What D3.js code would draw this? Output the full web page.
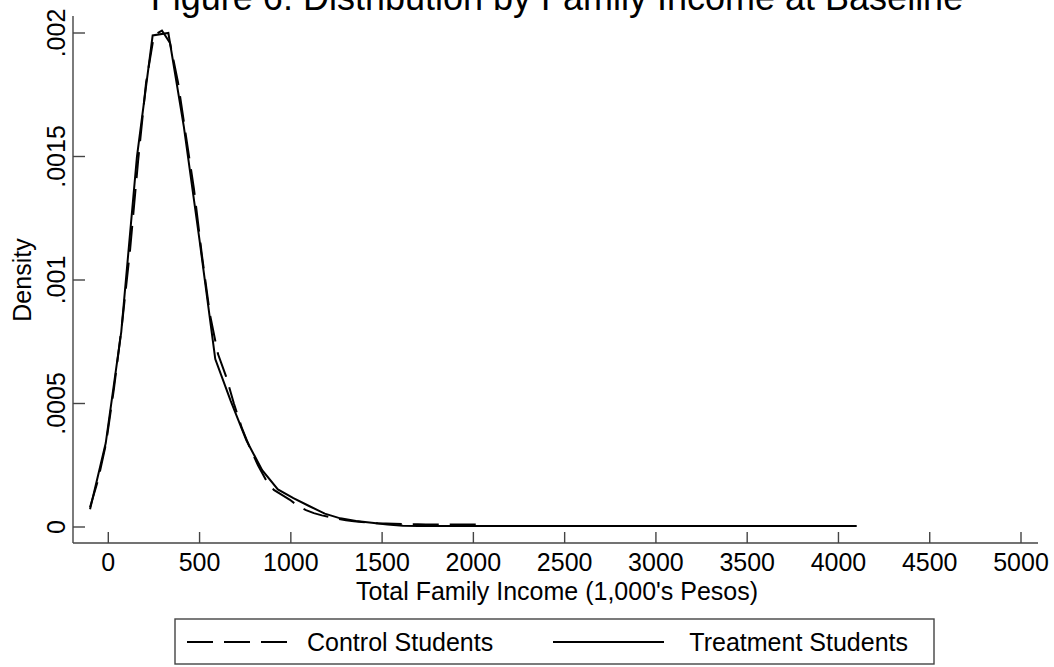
<!DOCTYPE html>
<html>
<head>
<meta charset="utf-8">
<script src="https://cdn.jsdelivr.net/npm/d3@7"></script>
<style>
  html, body { margin: 0; padding: 0; background: #fff; }
  svg { display: block; font-family: "Liberation Sans", Arial, sans-serif; }
</style>
</head>
<body>
<svg id="chart" width="1054" height="667"></svg>
<script>
// ---- Data ----
const titleText = "Figure 6: Distribution by Family Income at Baseline";
const xTitle = "Total Family Income (1,000's Pesos)";
const yTitle = "Density";
const xTicks = [0, 500, 1000, 1500, 2000, 2500, 3000, 3500, 4000, 4500, 5000];
const yTicks = [0, 0.0005, 0.001, 0.0015, 0.002];
const yTickLabels = ["0", ".0005", ".001", ".0015", ".002"];
const seriesNames = ["Control Students", "Treatment Students"];

const controlIncome = [-100, -56, -12, 31, 75, 119, 163, 207, 250, 294, 338, 382, 426, 469, 513, 557, 601, 645, 688, 732,
  776, 820, 864, 907, 951, 995, 1039, 1083, 1126, 1170, 1214, 1258, 1302, 1345, 1389, 1433, 1477, 1521, 1564, 1608,
  1652, 1696, 1740, 1783, 1827, 1871, 1915, 1959, 2002, 2046];
const controlDensity = [0.00008, 0.00019, 0.00034, 0.00056, 0.00082, 0.00112, 0.00148, 0.00180, 0.00199, 0.00201,
  0.00196, 0.00180, 0.00158, 0.00137, 0.00110, 0.00086, 0.00070, 0.00061, 0.00050, 0.00040,
  0.00032, 0.00025, 0.00019, 0.00015, 0.00013, 0.00011, 0.000085, 0.000068, 0.000056, 0.000047,
  0.000040, 0.000033, 0.000027, 0.000023, 0.000020, 0.000017, 0.000015, 0.000014, 0.000013, 0.000012,
  0.000011, 0.000011, 0.000010, 0.000010, 0.000010, 0.000010, 0.000010, 0.000010, 0.000010, 0.000010];

const treatmentIncome = [-100, -14, 71, 157, 243, 329, 414, 500, 586, 671, 757, 843, 929, 1014, 1100, 1186, 1271, 1357,
  1443, 1529, 1614, 1700, 1786, 1871, 1957, 2043, 2129, 2214, 2300, 2386, 2471, 2557, 2643, 2729, 2814, 2900,
  2986, 3071, 3157, 3243, 3329, 3414, 3500, 3586, 3671, 3757, 3843, 3929, 4014, 4100];
const treatmentDensity = [0.000072, 0.00034, 0.00079, 0.00150, 0.00199, 0.00200, 0.00162, 0.00116, 0.00068, 0.00051,
  0.00035, 0.00023, 0.000152, 0.000117, 0.000085, 0.000054, 0.000035, 0.000024, 0.000017, 0.000010,
  0.000005, 0.000004, 0.000004, 0.000004, 0.000004, 0.000004, 0.000004, 0.000004, 0.000004, 0.000004,
  0.000004, 0.000004, 0.000004, 0.000004, 0.000004, 0.000004, 0.000004, 0.000004, 0.000004, 0.000004,
  0.000004, 0.000004, 0.000004, 0.000004, 0.000004, 0.000004, 0.000004, 0.000004, 0.000004, 0.000004];

// ---- Layout ----
const svg = d3.select("#chart");
const x = d3.scaleLinear().domain([0, 5000]).range([108.3, 1021]);
const y = d3.scaleLinear().domain([0, 0.002]).range([527, 33]);
const axisX = 73, axisY = 543;
const fontSize = 25;
const dash = "26,11";

// Title (partly cut off at the top)
svg.append("text").attr("x", 557).attr("y", 10).attr("text-anchor", "middle")
  .attr("font-size", 36).attr("fill", "#000").text(titleText);

// Axis lines
svg.append("line").attr("x1", axisX).attr("x2", axisX).attr("y1", 16).attr("y2", axisY)
  .attr("stroke", "#444").attr("stroke-width", 1.4);
svg.append("line").attr("x1", axisX).attr("x2", 1038).attr("y1", axisY).attr("y2", axisY)
  .attr("stroke", "#444").attr("stroke-width", 1.4);

// X ticks (inward) and labels
const gx = svg.append("g");
gx.selectAll("line").data(xTicks).join("line")
  .attr("x1", d => x(d)).attr("x2", d => x(d)).attr("y1", axisY).attr("y2", axisY - 11)
  .attr("stroke", "#444").attr("stroke-width", 1.4);
gx.selectAll("text").data(xTicks).join("text")
  .attr("x", d => x(d)).attr("y", 571).attr("text-anchor", "middle")
  .attr("font-size", fontSize).attr("fill", "#000").text(d => d);

// Y ticks (inward) and rotated labels
const gy = svg.append("g");
gy.selectAll("line").data(yTicks).join("line")
  .attr("x1", axisX).attr("x2", axisX + 12).attr("y1", d => y(d)).attr("y2", d => y(d))
  .attr("stroke", "#444").attr("stroke-width", 1.4);
gy.selectAll("text").data(yTicks).join("text")
  .attr("transform", d => `translate(65,${y(d)}) rotate(-90)`)
  .attr("text-anchor", "middle").attr("font-size", fontSize).attr("fill", "#000")
  .text((d, i) => yTickLabels[i]);

// Axis titles
svg.append("text").attr("x", 557).attr("y", 600).attr("text-anchor", "middle")
  .attr("font-size", fontSize).attr("fill", "#000").text(xTitle);
svg.append("text").attr("transform", `translate(31,${y(0.001)}) rotate(-90)`)
  .attr("text-anchor", "middle").attr("font-size", fontSize).attr("fill", "#000").text(yTitle);

// Curves
const line = d3.line().x(d => x(d[0])).y(d => y(d[1]));
const controlPts = controlIncome.map((v, i) => [v, controlDensity[i]]);
const treatPts = treatmentIncome.map((v, i) => [v, treatmentDensity[i]]);
svg.append("path").attr("d", line(controlPts)).attr("fill", "none")
  .attr("stroke", "#000").attr("stroke-width", 2).attr("stroke-dasharray", dash);
svg.append("path").attr("d", line(treatPts)).attr("fill", "none")
  .attr("stroke", "#000").attr("stroke-width", 2);

// Legend
const lg = svg.append("g");
lg.append("rect").attr("x", 175).attr("y", 619).attr("width", 759).attr("height", 45)
  .attr("fill", "#fff").attr("stroke", "#444").attr("stroke-width", 1.4);
lg.append("line").attr("x1", 187).attr("x2", 288).attr("y1", 642).attr("y2", 642)
  .attr("stroke", "#000").attr("stroke-width", 2).attr("stroke-dasharray", dash);
lg.append("text").attr("x", 307).attr("y", 651).attr("font-size", fontSize).attr("fill", "#000").text(seriesNames[0]);
lg.append("line").attr("x1", 553).attr("x2", 664).attr("y1", 642).attr("y2", 642)
  .attr("stroke", "#000").attr("stroke-width", 2);
lg.append("text").attr("x", 908).attr("y", 651).attr("text-anchor", "end")
  .attr("font-size", fontSize).attr("fill", "#000").text(seriesNames[1]);
</script>
</body>
</html>
